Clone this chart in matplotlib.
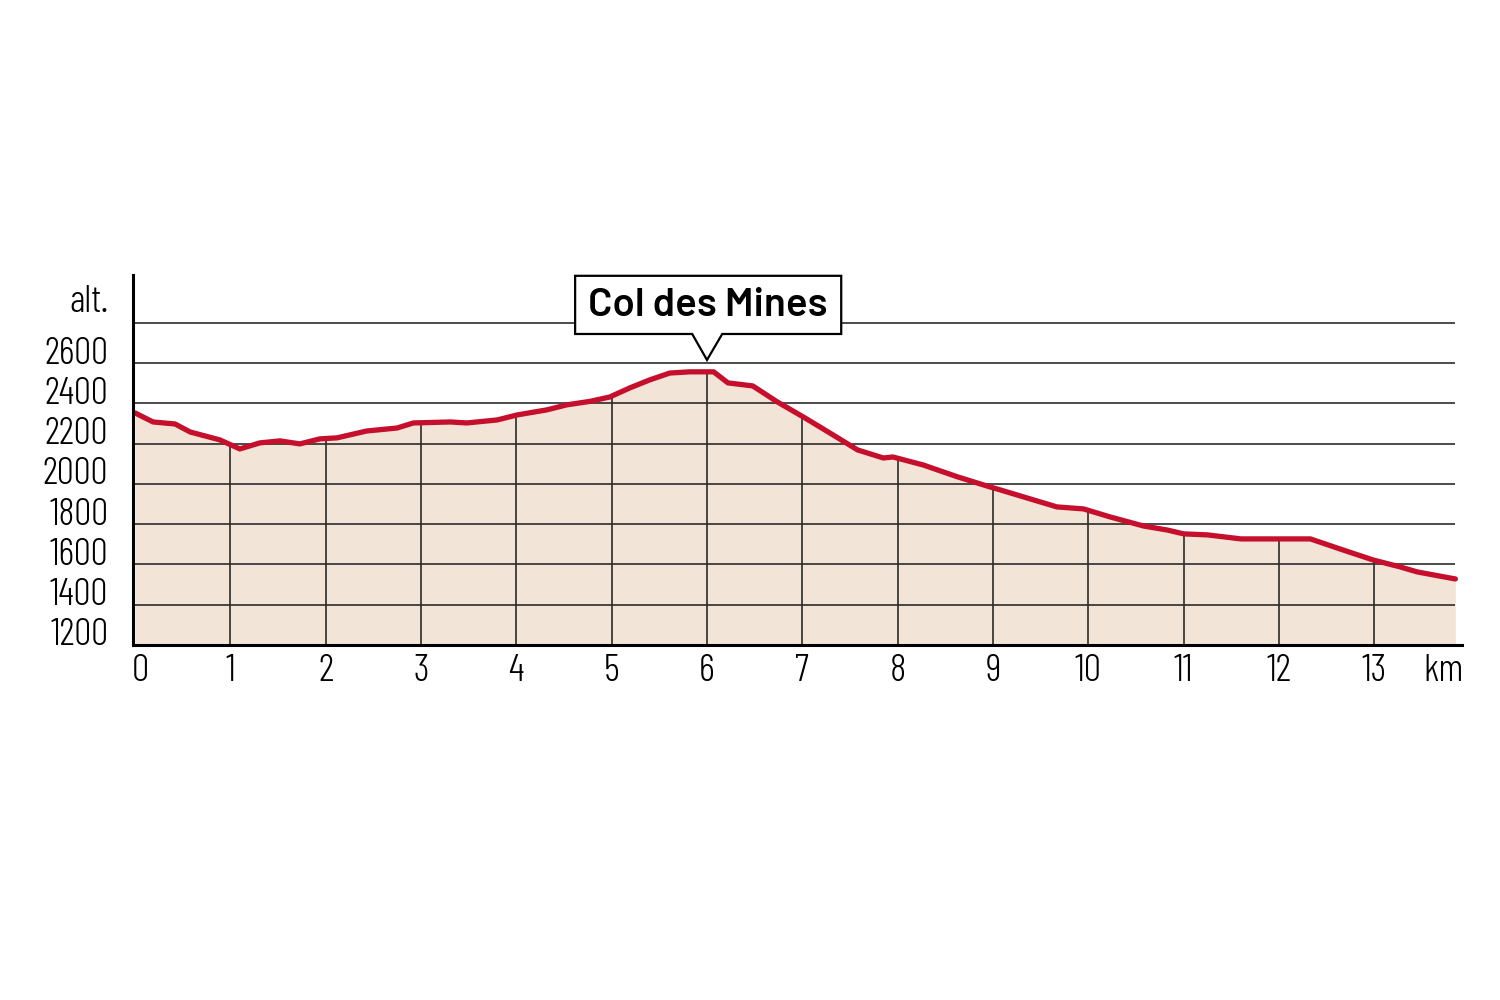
import numpy as np
import matplotlib.pyplot as plt
from matplotlib.patches import Polygon

# elevation profile
km = [0.0, 0.19, 0.42, 0.58, 0.89, 1.10, 1.31, 1.52, 1.73, 1.94, 2.12, 2.43, 2.75,
      2.92, 3.31, 3.48, 3.80, 4.01, 4.32, 4.53, 4.77, 4.98, 5.19, 5.40, 5.61, 5.82,
      6.07, 6.22, 6.48, 6.74, 7.01, 7.29, 7.58, 7.85, 7.95, 8.27, 8.63, 8.97, 9.08,
      9.36, 9.67, 9.95, 10.23, 10.58, 10.83, 11.00, 11.25, 11.60, 12.00, 12.33,
      12.64, 12.99, 13.27, 13.45, 13.85]
alt = [2353, 2308, 2298, 2258, 2219, 2174, 2204, 2214, 2199, 2224, 2229, 2263, 2278,
       2303, 2308, 2303, 2318, 2343, 2368, 2393, 2410, 2432, 2477, 2517, 2551, 2557,
       2557, 2502, 2487, 2407, 2333, 2253, 2169, 2129, 2134, 2094, 2035, 1985, 1970,
       1930, 1886, 1876, 1836, 1791, 1771, 1752, 1747, 1727, 1727, 1727,
       1677, 1622, 1588, 1563, 1528]

alt_ticks = [1200, 1400, 1600, 1800, 2000, 2200, 2400, 2600]
grid_levels = [1400, 1600, 1800, 2000, 2200, 2400, 2600, 2800]
km_ticks = list(range(0, 14))
summit_name = 'Col des Mines'
summit_km = 6.0

NARROW = ['Barlow Condensed', 'DejaVu Sans']
BOLD = ['Barlow', 'DejaVu Sans']
line_red = '#c50f2c'
fill_col = '#f3e4d8'

fig = plt.figure(figsize=(15, 10), dpi=100)
ax = fig.add_axes([0.0887, 0.355, 0.886, 0.370])
x_end = km[-1]
ax.set_xlim(-0.02, 13.92)
ax.set_ylim(1200, 3038)

ax.fill_between(km, 1200, alt, color=fill_col, lw=0, zorder=1)

# horizontal grid over the whole width
ax.hlines(grid_levels, 0, x_end, color='#2b2b2b', lw=1.2, zorder=2)
# vertical grid only under the profile
for k in km_ticks[1:]:
    top = np.interp(k, km, alt)
    ax.vlines(k, 1200, top, color='#2b2b2b', lw=1.2, zorder=2)

ax.plot(km, alt, color=line_red, lw=3.8, solid_capstyle='round',
        solid_joinstyle='round', zorder=4)

for s in ['top', 'right']:
    ax.spines[s].set_visible(False)
ax.spines['left'].set_linewidth(2.2)
ax.spines['bottom'].set_linewidth(2.2)
ax.spines['left'].set_zorder(5)
ax.spines['bottom'].set_zorder(5)
ax.set_xticks([])
ax.set_yticks([])

# y labels sit just above their gridline
for v in alt_ticks:
    ax.text(-0.28, v + 45, str(v), ha='right', va='center', fontsize=27.5,
            family=NARROW, fontweight=300, clip_on=False)
ax.text(-0.28, 2899, 'alt.', ha='right', va='center', fontsize=27.5,
        family=NARROW, fontweight=300, clip_on=False)

for k in km_ticks:
    ax.text(k + (0.06 if k == 0 else 0), 1068, str(k), ha='center', va='center',
            fontsize=28, family=NARROW, fontweight=300, clip_on=False)
ax.text(13.73, 1068, 'km', ha='center', va='center', fontsize=28,
        family=NARROW, fontweight=300, clip_on=False)

# summit callout box
bx0, bx1, by0, by1 = 4.617, 7.408, 2745, 3034
callout = Polygon([(bx0, by0), (bx0, by1), (bx1, by1), (bx1, by0),
                   (summit_km + 0.16, by0), (summit_km, 2616),
                   (summit_km - 0.155, by0)],
                  closed=True, facecolor='white', edgecolor='black', lw=1.6,
                  clip_on=False, zorder=6)
ax.add_patch(callout)
ax.text((bx0 + bx1) / 2, (by0 + by1) / 2 - 5, summit_name, ha='center', va='center',
        fontsize=29, fontweight=600, family=BOLD, zorder=7)

fig.savefig('out.png', dpi=100)
